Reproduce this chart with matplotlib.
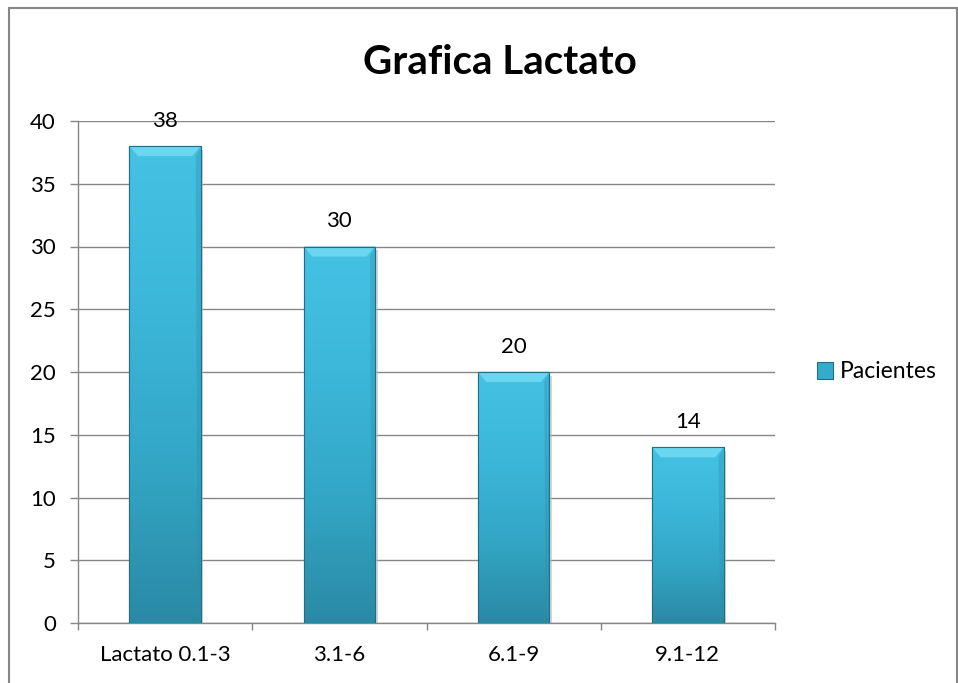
import numpy as np
import matplotlib.pyplot as plt
from matplotlib.patches import Rectangle, Polygon
from matplotlib.colors import LinearSegmentedColormap

plt.rcParams['font.family'] = ['Lato', 'DejaVu Sans']

# --- Data ---
categories = ["Lactato 0.1-3", "3.1-6", "6.1-9", "9.1-12"]
pacientes = [38, 30, 20, 14]
y_ticks = [0, 5, 10, 15, 20, 25, 30, 35, 40]

grid_col = "#868686"
bar_cmap = LinearSegmentedColormap.from_list(
    "bevel", ["#2a8aa5", "#33a6c6", "#3cb7d9", "#45c2e3"])

fig = plt.figure(figsize=(9.58, 6.83), dpi=100)

# chart area frame (extends past right/bottom edge like the screenshot)
fig.patches.append(Rectangle((9 / 958, -0.05), 948 / 958, 1.05 - 8 / 683,
                             transform=fig.transFigure, fill=False,
                             edgecolor=grid_col, lw=1.5))

ax = fig.add_axes([78 / 958, 1 - 623 / 683, 697 / 958, 502 / 683])
x = np.arange(len(categories))
width = 0.41

bars = ax.bar(x, pacientes, width=width, color="#36aacb",
              edgecolor="#1f6f86", lw=0.8, zorder=3)

# gradient + bevel on each bar
grad = np.linspace(0, 1, 256).reshape(-1, 1)
for b in bars:
    x0, y0 = b.get_x(), b.get_y()
    w, h = b.get_width(), b.get_height()
    im = ax.imshow(grad, cmap=bar_cmap, aspect="auto", origin="lower",
                   extent=(x0, x0 + w, y0, y0 + h), zorder=3.2)
    im.set_clip_path(b)
    bev_x = w * 0.12
    bev_y = 0.8
    top = Polygon([(x0, y0 + h), (x0 + w, y0 + h),
                   (x0 + w - bev_x, y0 + h - bev_y), (x0 + bev_x, y0 + h - bev_y)],
                  closed=True, facecolor="#6ad6ef", edgecolor="none", zorder=3.4)
    ax.add_patch(top)
    side_r = Polygon([(x0 + w, y0 + h), (x0 + w, y0),
                      (x0 + w - bev_x * 0.4, y0), (x0 + w - bev_x * 0.6, y0 + h - bev_y)],
                     closed=True, facecolor="#2b8fab", alpha=0.35,
                     edgecolor="none", zorder=3.4)
    ax.add_patch(side_r)
    ax.add_patch(Rectangle((x0, y0), w, h, fill=False, edgecolor="#1f6f86",
                           lw=0.8, zorder=3.5))
    # soft shadow on the right
    ax.add_patch(Rectangle((x0 + w, y0), 0.015, h - 0.3, facecolor="#bbbbbb",
                           edgecolor="none", alpha=0.6, zorder=2.9))

for xi, v in zip(x, pacientes):
    ax.annotate(str(v), (xi, v), xytext=(0, 14), textcoords="offset points",
                ha="center", va="baseline", fontsize=16, color="black", zorder=5)

ax.set_xlim(-0.5, len(categories) - 0.5)
ax.set_ylim(0, 40)
ax.set_yticks(y_ticks)
ax.set_yticklabels([str(t) for t in y_ticks])
ax.set_xticks(x)
ax.set_xticklabels(categories)
ax.set_xticks(np.arange(-0.5, len(categories), 1.0), minor=True)

ax.tick_params(axis="y", direction="out", length=6, width=1, color=grid_col,
               labelsize=16, pad=10)
ax.tick_params(axis="x", which="major", length=0, labelsize=16, pad=16)
ax.tick_params(axis="x", which="minor", direction="out", length=5, width=1,
               color=grid_col)

ax.grid(axis="y", color=grid_col, lw=1, zorder=0)
ax.set_axisbelow(True)
for s in ["top", "right"]:
    ax.spines[s].set_visible(False)
for s in ["left", "bottom"]:
    ax.spines[s].set_color(grid_col)
    ax.spines[s].set_linewidth(1)

fig.text(500 / 958, 1 - 62 / 683, "Grafica Lactato", ha="center", va="center",
         fontsize=29, fontweight="bold")

# legend
ax.legend([bars], ["Pacientes"], loc="center left",
          bbox_to_anchor=(1.03, 0.5), frameon=False, fontsize=16.5,
          handlelength=0.7, handleheight=0.7, handletextpad=0.3)

plt.savefig("out.png", dpi=100)
